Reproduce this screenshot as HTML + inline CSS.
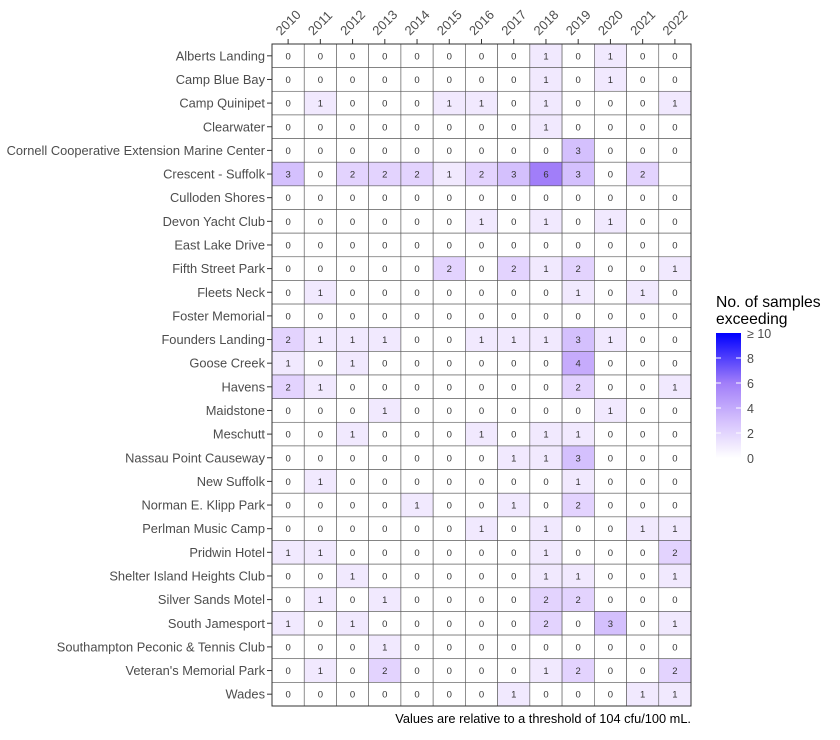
<!DOCTYPE html>
<html><head><meta charset="utf-8"><style>
body{margin:0;background:#fff;}
svg text{font-family:"Liberation Sans",Arial,sans-serif;}
</style></head><body>
<svg id="s" width="840" height="735" xmlns="http://www.w3.org/2000/svg">
<defs><linearGradient id="g" x1="0" y1="1" x2="0" y2="0">
<stop offset="0" stop-color="#ffffff"/><stop offset="0.3" stop-color="#d4c0fd"/><stop offset="0.6" stop-color="#a17ef9"/><stop offset="1" stop-color="#0000ff"/></linearGradient></defs>
<text x="716" y="307" font-size="15.7" fill="#000">No. of samples</text>
<text x="716" y="324" font-size="15.7" fill="#000">exceeding</text>
<rect x="716" y="333" width="25" height="125" fill="url(#g)"/>
<g font-size="12.5" fill="#4d4d4d">
<text x="747" y="338">≥ 10</text><text x="747" y="363">8</text><text x="747" y="388">6</text><text x="747" y="413">4</text><text x="747" y="438">2</text><text x="747" y="463">0</text></g>
<g stroke="#fff" stroke-width="1"><line x1="716" y1="358" x2="721" y2="358"/><line x1="736" y1="358" x2="741" y2="358"/><line x1="716" y1="383" x2="721" y2="383"/><line x1="736" y1="383" x2="741" y2="383"/><line x1="716" y1="408" x2="721" y2="408"/><line x1="736" y1="408" x2="741" y2="408"/><line x1="716" y1="433" x2="721" y2="433"/><line x1="736" y1="433" x2="741" y2="433"/></g>
<text x="691" y="723" font-size="12.8" fill="#000" text-anchor="end">Values are relative to a threshold of 104 cfu/100 mL.</text>
</svg>
<script>
const names=["Alberts Landing","Camp Blue Bay","Camp Quinipet","Clearwater","Cornell Cooperative Extension Marine Center","Crescent - Suffolk","Culloden Shores","Devon Yacht Club","East Lake Drive","Fifth Street Park","Fleets Neck","Foster Memorial","Founders Landing","Goose Creek","Havens","Maidstone","Meschutt","Nassau Point Causeway","New Suffolk","Norman E. Klipp Park","Perlman Music Camp","Pridwin Hotel","Shelter Island Heights Club","Silver Sands Motel","South Jamesport","Southampton Peconic & Tennis Club","Veteran's Memorial Park","Wades"];
const d=["0000000010100","0000000010100","0100011010001","0000000010000","0000000003000","302221236302x","0000000000000","0000001010100","0000000000000","0000020212001","0100000001010","0000000000000","2111001113100","1010000004000","2100000002001","0001000000100","0010001011000","0000000113000","0100000001000","0000100102000","0000001010011","1100000010002","0010000011001","0101000022000","1010000020301","0001000000000","0102000012002","0000000100011"];
const cols={0:"#ffffff",1:"#f1e9fe",2:"#e3d3fe",3:"#d4c0fd",4:"#c6abfc",6:"#a17ef9"};
const x0=272,y0=44,cw=(691-272)/13,rh=(706-44)/28;
let h="";
for(let r=0;r<28;r++){const y=y0+r*rh;
h+=`<text x="265" y="${y+rh/2+4.5}" font-size="12.85" fill="#4d4d4d" text-anchor="end">${names[r].replace('&','&amp;')}</text>`;
h+=`<line x1="267" y1="${y+rh/2}" x2="272" y2="${y+rh/2}" stroke="#333"/>`;
for(let c=0;c<13;c++){const v=d[r][c];const x=x0+c*cw;
if(v==="x"){continue;}
h+=`<rect x="${x}" y="${y}" width="${cw}" height="${rh}" fill="${cols[v]}" stroke="#555" stroke-width="0.6"/>`;
h+=`<text x="${x+cw/2}" y="${y+rh/2+3.5}" font-size="9.5" fill="#333" text-anchor="middle">${v}</text>`;}}
for(let c=0;c<13;c++){const x=x0+c*cw+cw/2;
h+=`<line x1="${x}" y1="39" x2="${x}" y2="44" stroke="#333"/>`;
h+=`<text transform="translate(${x-7},36) rotate(-45)" font-size="13" fill="#4d4d4d">${2010+c}</text>`;}
h+=`<rect x="272" y="44" width="419" height="662" fill="none" stroke="#333" stroke-width="1"/>`;
document.getElementById("s").insertAdjacentHTML("beforeend",h);
</script>
</body></html>
